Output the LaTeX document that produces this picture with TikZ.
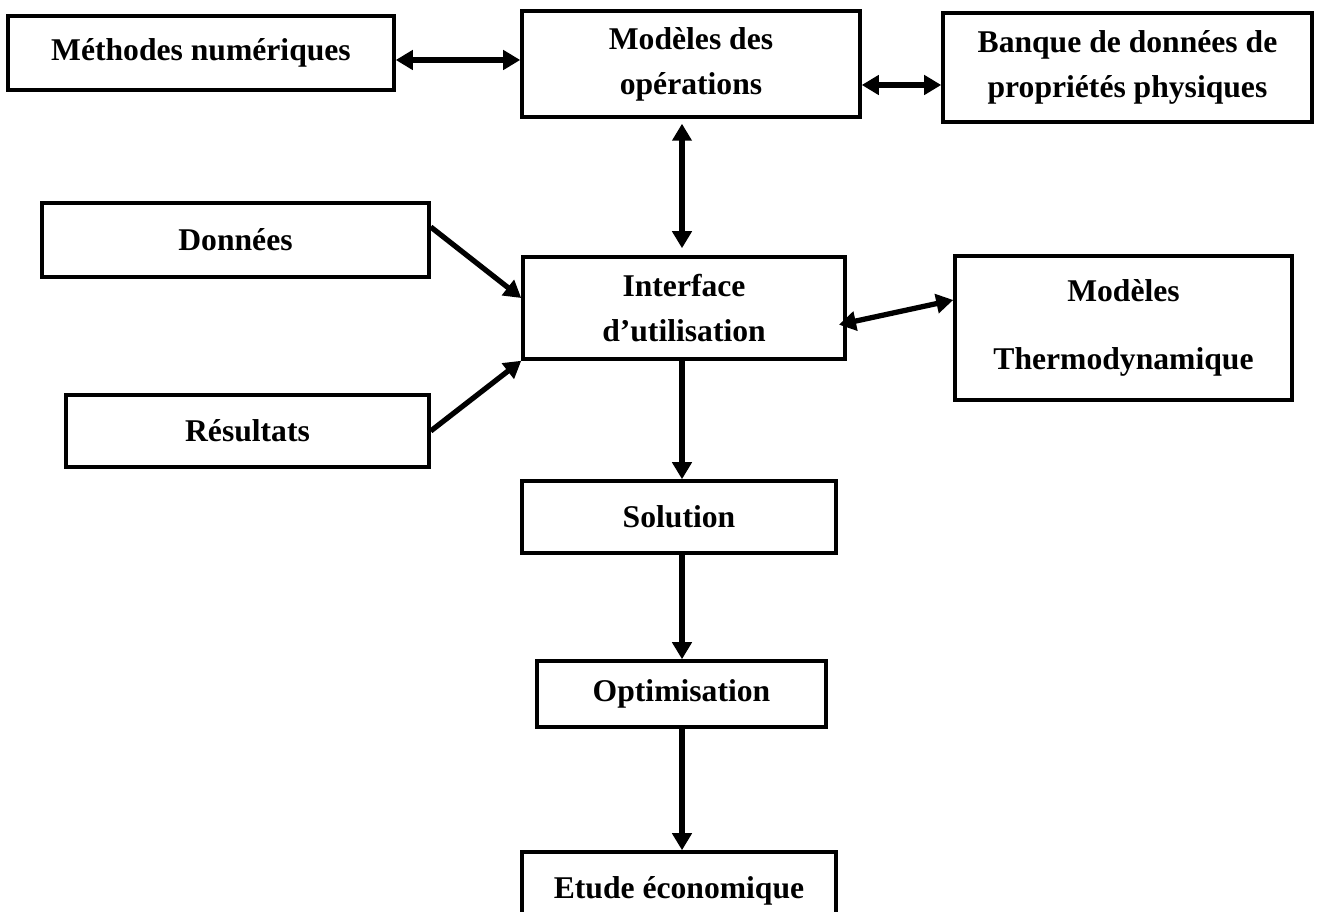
\documentclass[tikz,border=0pt]{standalone}
\usepackage{fontspec}
\setmainfont{Liberation Serif}
\usetikzlibrary{arrows.meta,shapes}

\begin{document}
\begin{tikzpicture}
				\tikzstyle{box}=[draw, rectangle, line width=2pt, inner sep=0pt, align=center, font=\fontsize{18}{25.5}\selectfont\bfseries]
				\tikzstyle{arrow}=[draw, line width=3pt, -{Triangle[length=0.34cm, width=0.38cm]}]
				\tikzstyle{biarrow}=[draw, line width=3pt, {Triangle[length=0.34cm, width=0.38cm]}-{Triangle[length=0.34cm, width=0.38cm]}]
				\newcommand\Xmid{13.64}

				\useasboundingbox (0,0) rectangle (26.34,18.24);

				 % Top row
				\node [box, minimum width=7.72cm, minimum height=1.48cm] at (4.02,17.18) (meth) {Méthodes numériques};
				\node [box, minimum width=6.76cm, minimum height=2.12cm] at (13.82,16.96) (modop) {Modèles des\\opérations};
				\node [box, minimum width=7.38cm, minimum height=2.18cm] at (22.55,16.89) (banque) {Banque de données de\\propriétés physiques};

				 % Inputs
				\node [box, minimum width=7.74cm, minimum height=1.48cm] at (4.71,13.44) (donnees) {Données};
				\node [box, minimum width=7.26cm, minimum height=1.44cm] at (4.95,9.62) (result) {Résultats};

				 % Interface
				\node [box, minimum width=6.44cm, minimum height=2.04cm] at (13.68,12.08) (interf) {Interface\\d’utilisation};
				\node [box, minimum width=6.74cm, minimum height=2.88cm] at (22.47,11.68) (thermo) {Modèles\\[0.48cm]Thermodynamique};

				 % Chain
				\node [box, minimum width=6.28cm, minimum height=1.44cm] at (13.58,7.90) (solution) {Solution};
				\node [box, minimum width=5.78cm, minimum height=1.32cm] at (13.63,4.36) (optim) {Optimisation};
				\node [box, minimum width=6.28cm, minimum height=1.56cm] at (13.58,0.42) (etude) {Etude économique};

				 % Path Arrows
				\path [biarrow] ([yshift=-0.14cm]meth.east) -- ([yshift=-0.14cm]meth.east -| modop.west);
				\path [biarrow] ([yshift=-0.42cm]modop.east) -- ([yshift=-0.42cm]modop.east -| banque.west);
				\path [biarrow, shorten <=0.1cm, shorten >=0.14cm] (\Xmid,0 |- modop.south) -- (\Xmid,0 |- interf.north);
				\path [arrow] ([yshift=0.26cm]donnees.east) -- ([yshift=0.2cm]interf.west);
				\path [arrow] (result.east) -- (interf.south west);
				\path [biarrow, shorten <=-0.16cm] ([yshift=-0.3cm]interf.east) -- ([yshift=0.56cm]thermo.west);
				\path [arrow] (\Xmid,0 |- interf.south) -- (\Xmid,0 |- solution.north);
				\path [arrow] (\Xmid,0 |- solution.south) -- (\Xmid,0 |- optim.north);
				\path [arrow] (\Xmid,0 |- optim.south) -- (\Xmid,0 |- etude.north);

\end{tikzpicture}
\end{document}
